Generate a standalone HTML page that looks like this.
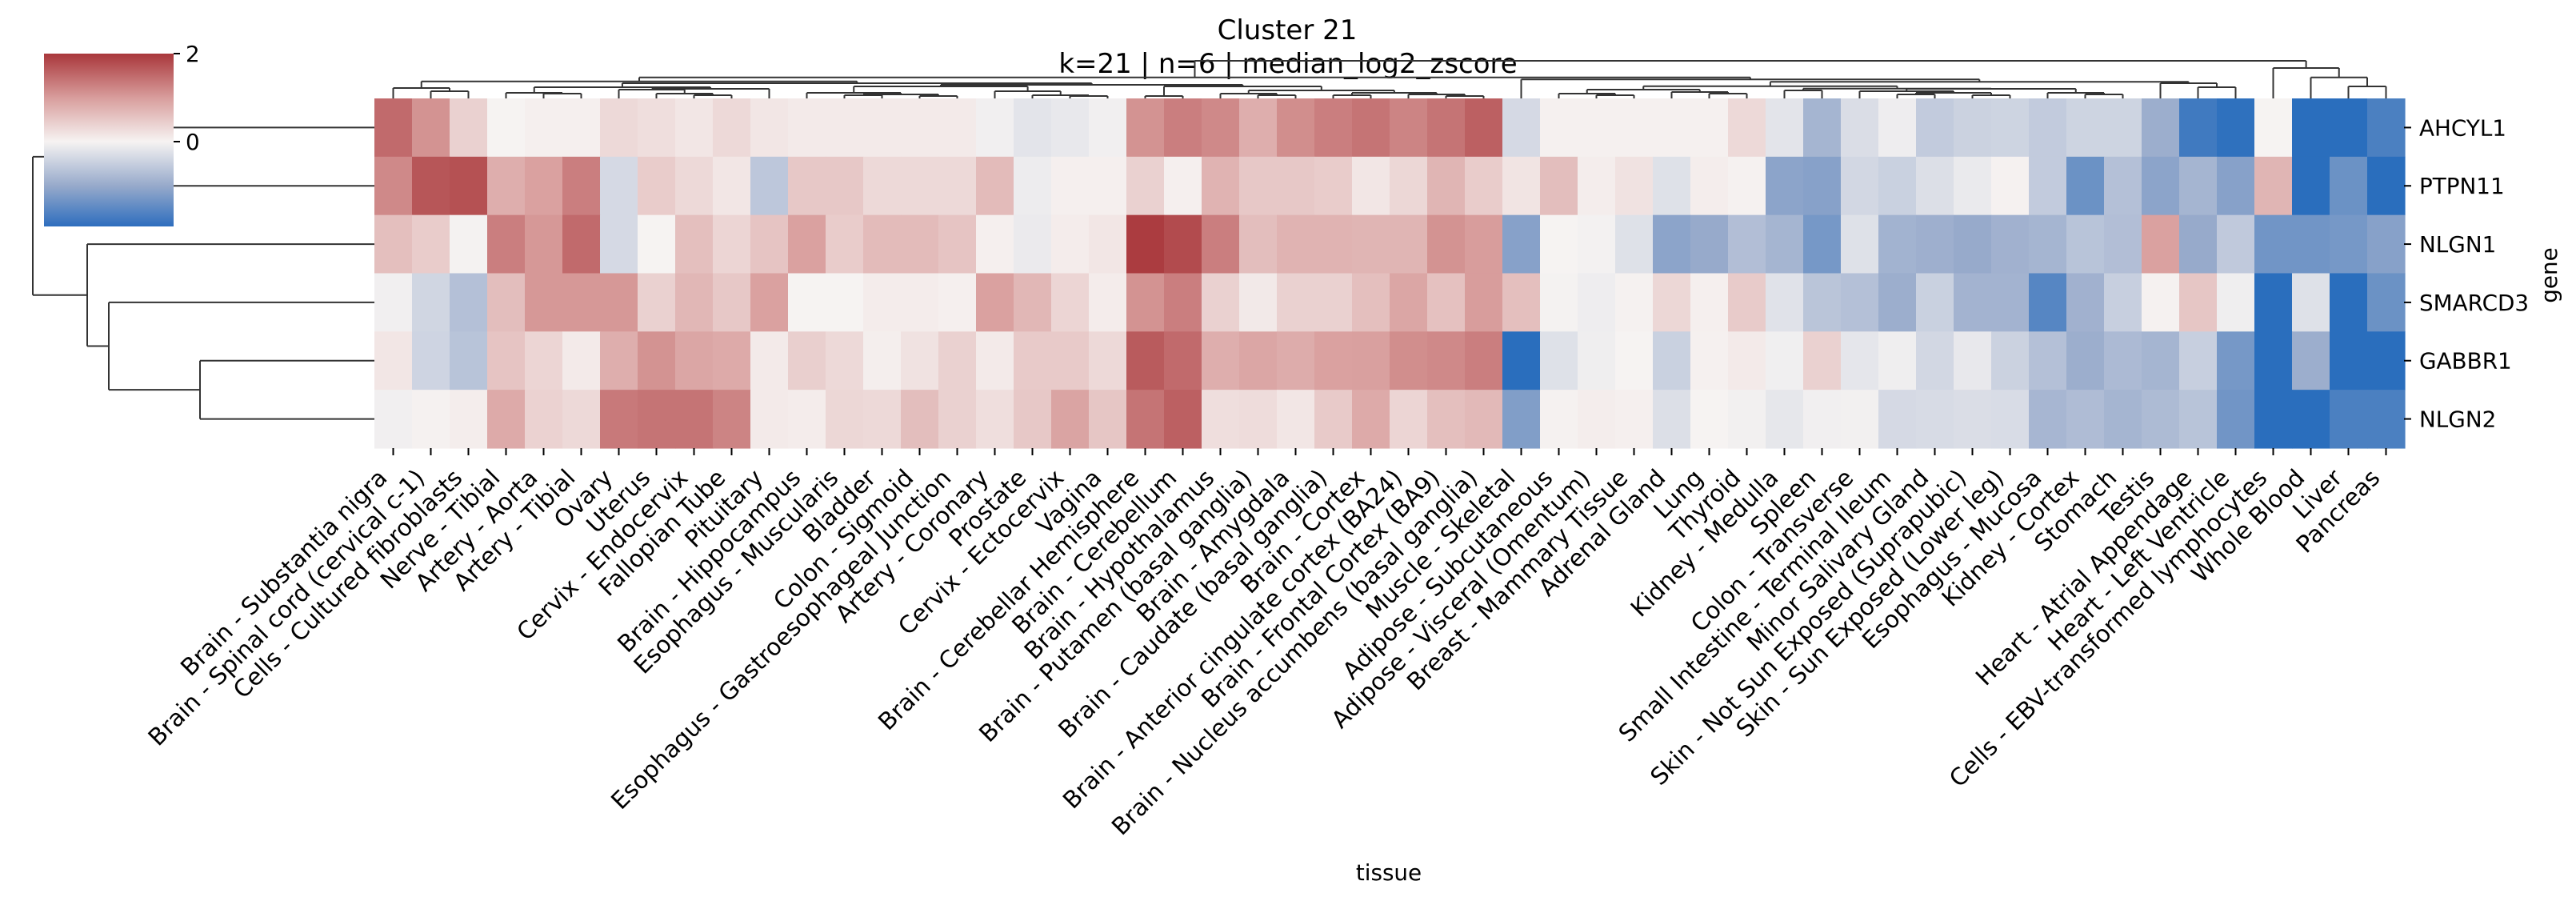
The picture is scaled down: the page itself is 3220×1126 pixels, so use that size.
<!DOCTYPE html>
<html><head><meta charset="utf-8"><style>
html,body{margin:0;padding:0;background:#fff;width:3220px;height:1126px;overflow:hidden}
svg text{font-family:"DejaVu Sans","Liberation Sans",sans-serif;fill:#000}
</style></head><body>
<svg id="s" xmlns="http://www.w3.org/2000/svg" width="3220" height="1126" viewBox="0 0 3220 1126">
<defs>
<linearGradient id="cb" x1="0" y1="0" x2="0" y2="1">
<stop offset="0" stop-color="#a9373b"/>
<stop offset="0.255" stop-color="#d89d9c"/>
<stop offset="0.509" stop-color="#f6f3f2"/>
<stop offset="0.764" stop-color="#97aacb"/>
<stop offset="1" stop-color="#2e6ebe"/>
</linearGradient>
</defs>
<text x="1609" y="49" font-size="34" text-anchor="middle">Cluster 21</text>
<text x="1610" y="91" font-size="34" text-anchor="middle">k=21 | n=6 | median_log2_zscore</text>
<g id="hm"></g>
<g id="dg" stroke="#333" stroke-width="2" fill="none"></g>
<rect id="cbr" x="55" y="67" width="162" height="216" fill="url(#cb)"/>
<line x1="217" y1="67" x2="225" y2="67" stroke="#000" stroke-width="2"/>
<line x1="217" y1="177" x2="225" y2="177" stroke="#000" stroke-width="2"/>
<text x="232" y="77" font-size="27.8">2</text>
<text x="232" y="187" font-size="27.8">0</text>
<g id="lb"></g>
<text x="1736" y="1100" font-size="27.8" text-anchor="middle">tissue</text>
<text transform="translate(3196,344) rotate(-90)" font-size="27.8" text-anchor="middle">gene</text>
</svg>
<script>
var NS="http://www.w3.org/2000/svg";
function el(t,a,p,txt){var e=document.createElementNS(NS,t);for(var k in a)e.setAttribute(k,a[k]);if(txt!=null)e.textContent=txt;p.appendChild(e);return e;}
var stops=[[-2,[42,110,189]],[-1,[151,170,203]],[0,[246,243,242]],[1,[216,157,156]],[2,[169,55,59]]];
function cm(v){v=Math.max(-2,Math.min(2,v));for(var i=0;i<4;i++){var a=stops[i],b=stops[i+1];if(v<=b[0]){var t=(v-a[0])/(b[0]-a[0]);return "rgb("+[0,1,2].map(function(k){return Math.round(a[1][k]+(b[1][k]-a[1][k])*t)}).join(",")+")";}}}
var D=[
[1.5,1.1,0.4,0,0.05,0.05,0.3,0.25,0.15,0.3,0.15,0.1,0.1,0.1,0.1,0.1,-0.05,-0.2,-0.15,-0.05,1.1,1.3,1.2,0.8,1.15,1.3,1.4,1.25,1.4,1.6,-0.35,0.03,0.03,0.03,0.03,0.03,0.3,-0.2,-0.85,-0.3,-0.08,-0.55,-0.45,-0.43,-0.55,-0.43,-0.43,-0.95,-1.8,-1.95,0,-2,-2,-1.7],
[1.2,1.7,1.75,0.8,0.95,1.3,-0.35,0.45,0.3,0.15,-0.6,0.5,0.5,0.3,0.3,0.3,0.65,-0.1,0.05,0.05,0.4,0.05,0.75,0.5,0.5,0.45,0.15,0.33,0.72,0.45,0.18,0.62,0.07,0.2,-0.25,0.07,0.02,-1.1,-1.15,-0.38,-0.47,-0.27,-0.13,0.02,-0.55,-1.4,-0.7,-1.1,-0.85,-1.15,0.72,-2,-1.4,-2],
[0.6,0.45,-0.02,1.3,1.05,1.5,-0.35,0,0.6,0.35,0.55,0.95,0.45,0.65,0.65,0.55,0.05,-0.12,0.08,0.15,1.95,1.8,1.3,0.62,0.75,0.75,0.72,0.72,1.1,1.0,-1.15,0,-0.03,-0.25,-1.1,-1.0,-0.72,-0.85,-1.3,-0.25,-0.88,-0.93,-1.0,-0.9,-0.85,-0.65,-0.72,0.95,-1.0,-0.57,-1.35,-1.35,-1.3,-1.15],
[-0.05,-0.4,-0.7,0.62,1.05,1.05,1.05,0.4,0.7,0.5,0.95,0,0,0.08,0.08,0.05,0.95,0.7,0.35,0.08,1.1,1.3,0.4,0.12,0.4,0.4,0.6,0.9,0.58,1.0,0.6,-0.02,-0.08,0.02,0.33,0.05,0.47,-0.23,-0.63,-0.7,-0.95,-0.47,-0.87,-0.87,-1.6,-0.9,-0.5,0.02,0.52,-0.07,-2,-0.25,-2,-1.4],
[0.15,-0.42,-0.65,0.55,0.35,0.1,0.8,1.1,0.9,0.85,0.1,0.42,0.3,0.06,0.2,0.4,0.1,0.48,0.48,0.3,1.65,1.5,0.8,0.9,0.82,0.95,0.97,1.15,1.2,1.3,-2,-0.25,-0.07,0,-0.47,0.03,0.1,-0.06,0.4,-0.18,-0.07,-0.38,-0.15,-0.45,-0.7,-0.95,-0.78,-0.85,-0.5,-1.3,-2,-0.95,-2,-2],
[-0.05,0.02,0.07,0.85,0.38,0.3,1.35,1.4,1.4,1.25,0.1,0.08,0.33,0.3,0.62,0.4,0.25,0.5,0.92,0.52,1.4,1.6,0.25,0.27,0.15,0.48,0.85,0.35,0.6,0.67,-1.2,0.02,0.07,0.05,-0.27,0,-0.04,-0.17,-0.05,-0.04,-0.35,-0.33,-0.3,-0.32,-0.83,-0.75,-0.85,-0.77,-0.65,-1.35,-2,-2,-1.7,-1.7]];
var L=["Brain - Substantia nigra","Brain - Spinal cord (cervical c-1)","Cells - Cultured fibroblasts","Nerve - Tibial","Artery - Aorta","Artery - Tibial","Ovary","Uterus","Cervix - Endocervix","Fallopian Tube","Pituitary","Brain - Hippocampus","Esophagus - Muscularis","Bladder","Colon - Sigmoid","Esophagus - Gastroesophageal Junction","Artery - Coronary","Prostate","Cervix - Ectocervix","Vagina","Brain - Cerebellar Hemisphere","Brain - Cerebellum","Brain - Hypothalamus","Brain - Putamen (basal ganglia)","Brain - Amygdala","Brain - Caudate (basal ganglia)","Brain - Cortex","Brain - Anterior cingulate cortex (BA24)","Brain - Frontal Cortex (BA9)","Brain - Nucleus accumbens (basal ganglia)","Muscle - Skeletal","Adipose - Subcutaneous","Adipose - Visceral (Omentum)","Breast - Mammary Tissue","Adrenal Gland","Lung","Thyroid","Kidney - Medulla","Spleen","Colon - Transverse","Small Intestine - Terminal Ileum","Minor Salivary Gland","Skin - Not Sun Exposed (Suprapubic)","Skin - Sun Exposed (Lower leg)","Esophagus - Mucosa","Kidney - Cortex","Stomach","Testis","Heart - Atrial Appendage","Heart - Left Ventricle","Cells - EBV-transformed lymphocytes","Whole Blood","Liver","Pancreas"];
var G=["AHCYL1","PTPN11","NLGN1","SMARCD3","GABBR1","NLGN2"];
var X0=468,CW=47,Y0=123,RH=72.83;
var hm=document.getElementById("hm"),lb=document.getElementById("lb"),dg=document.getElementById("dg");
for(var r=0;r<6;r++)for(var c=0;c<54;c++)el("rect",{x:X0+c*CW,y:Y0+r*RH,width:CW+0.6,height:RH+0.6,fill:cm(D[r][c])},hm);
for(var c=0;c<54;c++){var px=X0+CW*(c+0.5);
el("line",{x1:px,y1:560,x2:px,y2:569,stroke:"#000","stroke-width":2},lb);
el("text",{transform:"translate("+(px-6)+",599) rotate(-45)","font-size":"29.5","text-anchor":"end"},lb,L[c]);}
for(var r=0;r<6;r++){var cy=Y0+RH*(r+0.5);
el("line",{x1:3005,y1:cy,x2:3014,y2:cy,stroke:"#000","stroke-width":2},lb);
el("text",{x:3024,y:cy+10,"font-size":"27.8"},lb,G[r]);}
function ln(a,b,c,d){el("line",{x1:a,y1:b,x2:c,y2:d},dg);}
function colx(i){return X0+CW*(i+0.5);}
function draw(n){ if(typeof n==="number") return [colx(n),Y0];
 var a=draw(n[0]),b=draw(n[1]),y=n[2];
 ln(a[0],a[1],a[0],y);ln(b[0],b[1],b[0],y);ln(a[0],y,b[0],y);return [(a[0]+b[0])/2,y];}
var A0=[0,[1,2,114],110],A1=[3,[4,5,117],116],B=[[6,[7,[8,9,119],117],112],10,111];
var C1=[11,[[12,13,119],[14,15,120],118],116],C2=[16,[17,[18,19,120],119],114],C=[C1,C2,108];
var Br=[[20,21,120],[[22,[23,24,119],117],[[25,26,119],[27,[28,29,120],118],116],113],108];
var N=[A1,B,109],O=[C,Br,106],M=[N,O,104],LL=[A0,M,101.7];
var D1=[[31,[32,33,119],117],[34,[35,36,117],115],112];
var E=[[39,[[40,41,118],[42,43,119],116],114],[44,[45,46,118],116],111];
var D2=[[37,38,113],E,110.7],DD=[D1,D2,107.7];
var XX=[30,[DD,[47,[48,49,109],104],102.3],99.3];
var Y=[LL,XX,96.7],R=[50,[51,[52,53,108],96.7],85];
draw([Y,R,76]);
function ry(i){return Y0+RH*(i+0.5);}
ln(468,ry(0),120,ry(0));ln(468,ry(1),120,ry(1));ln(120,ry(0),120,ry(1));
var m01=(ry(0)+ry(1))/2;
ln(468,ry(4),250,ry(4));ln(468,ry(5),250,ry(5));ln(250,ry(4),250,ry(5));
var m45=(ry(4)+ry(5))/2;
ln(468,ry(3),136,ry(3));ln(250,m45,136,m45);ln(136,ry(3),136,m45);
var m345=(ry(3)+m45)/2;
ln(468,ry(2),109,ry(2));ln(136,m345,109,m345);ln(109,ry(2),109,m345);
var m2=(ry(2)+m345)/2;
ln(120,m01,41,m01);ln(109,m2,41,m2);ln(41,m01,41,m2);
var s=document.getElementById("s");var cbr=document.getElementById("cbr");s.insertBefore(cbr,lb);
</script>
</body></html>
